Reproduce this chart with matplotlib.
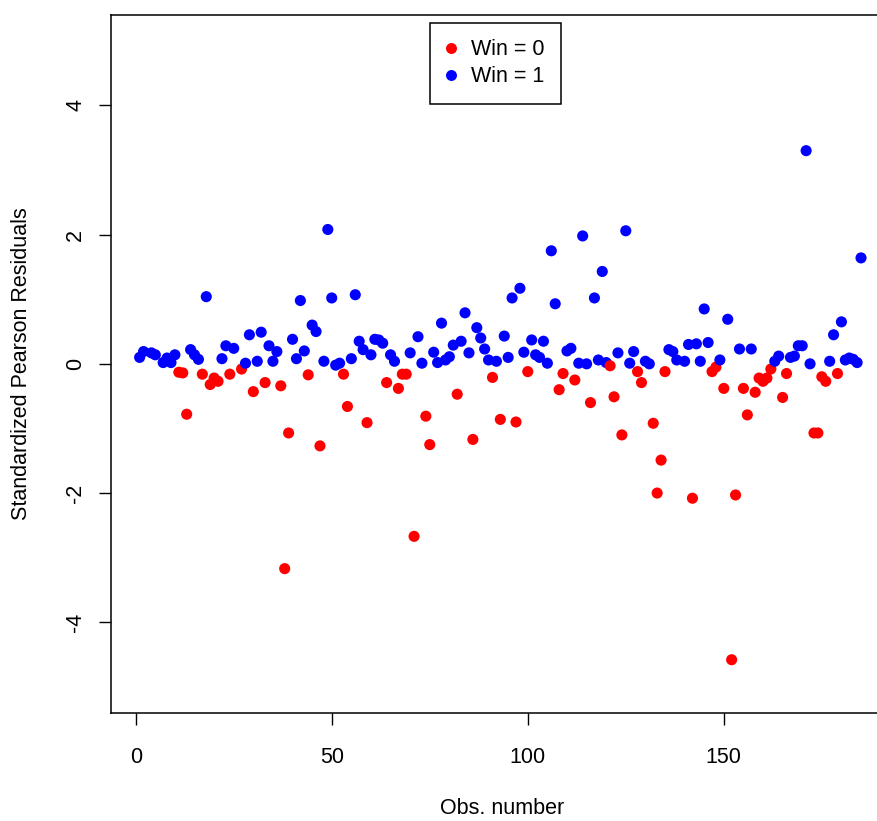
import numpy as np
import matplotlib
matplotlib.use("Agg")
import matplotlib.pyplot as plt
from matplotlib.lines import Line2D

# ----------------------------------------------------
# DATA
# ----------------------------------------------------
obs_win0 = [11, 12, 13, 17, 19, 20, 21, 24, 27, 30, 33, 37, 38, 39, 44, 47,
            53, 54, 59, 64, 67, 68, 69, 71, 74, 75, 82, 86, 91, 93, 97, 100,
            108, 109, 112, 116, 121, 122, 124, 128, 129, 132, 133, 134, 135,
            142, 147, 148, 150, 152, 153, 155, 156, 158, 159, 160, 161, 162,
            165, 166, 173, 174, 175, 176, 179]
resid_win0 = [-0.13, -0.14, -0.78, -0.16, -0.32, -0.22, -0.27, -0.16, -0.08,
              -0.43, -0.29, -0.34, -3.17, -1.07, -0.17, -1.27,
              -0.16, -0.66, -0.91, -0.29, -0.38, -0.16, -0.16, -2.67, -0.81,
              -1.25, -0.47, -1.17, -0.21, -0.86, -0.90, -0.12,
              -0.40, -0.15, -0.25, -0.60, -0.03, -0.51, -1.10, -0.12, -0.29,
              -0.92, -2.00, -1.49, -0.12,
              -2.08, -0.12, -0.05, -0.38, -4.58, -2.03, -0.38, -0.79, -0.44,
              -0.22, -0.27, -0.22, -0.08,
              -0.52, -0.15, -1.07, -1.07, -0.20, -0.27, -0.15]

obs_win1 = [1, 2, 4, 5, 7, 8, 9, 10, 14, 15, 16, 18, 22, 23, 25, 28, 29, 31,
            32, 34, 35, 36, 40, 41, 42, 43, 45, 46, 48, 49, 50, 51, 52, 55,
            56, 57, 58, 60, 61, 62, 63, 65, 66, 70, 72, 73, 76, 77, 78, 79,
            80, 81, 83, 84, 85, 87, 88, 89, 90, 92, 94, 95, 96, 98, 99, 101,
            102, 103, 104, 105, 106, 107, 110, 111, 113, 114, 115, 117, 118,
            119, 120, 123, 125, 126, 127, 130, 131, 136, 137, 138, 140, 141,
            143, 144, 145, 146, 149, 151, 154, 157, 163, 164, 167, 168, 169,
            170, 171, 172, 177, 178, 180, 181, 182, 183, 184, 185]
resid_win1 = [0.10, 0.19, 0.17, 0.14, 0.02, 0.09, 0.02, 0.14, 0.22, 0.14,
              0.07, 1.04, 0.08, 0.28, 0.24, 0.01, 0.45, 0.04,
              0.49, 0.28, 0.04, 0.19, 0.38, 0.08, 0.98, 0.20, 0.60, 0.50,
              0.04, 2.08, 1.02, -0.02, 0.01, 0.08,
              1.07, 0.35, 0.22, 0.14, 0.38, 0.37, 0.32, 0.14, 0.04, 0.17,
              0.42, 0.01, 0.18, 0.02, 0.63, 0.06,
              0.11, 0.29, 0.35, 0.79, 0.17, 0.56, 0.40, 0.23, 0.06, 0.04,
              0.43, 0.10, 1.02, 1.17, 0.18, 0.37,
              0.14, 0.10, 0.35, 0.01, 1.75, 0.93, 0.20, 0.24, 0.01, 1.98,
              0.00, 1.02, 0.06,
              1.43, 0.02, 0.17, 2.06, 0.01, 0.19, 0.04, 0.00, 0.22, 0.19,
              0.06, 0.04, 0.30,
              0.31, 0.04, 0.85, 0.33, 0.06, 0.69, 0.23, 0.23, 0.04, 0.12,
              0.10, 0.12, 0.28,
              0.28, 3.30, 0.00, 0.04, 0.45, 0.65, 0.06, 0.09, 0.07, 0.02, 1.64]

x_ticks = [0, 50, 100, 150]
y_ticks = [-4, -2, 0, 2, 4]
legend_labels = ["Win = 0", "Win = 1"]
group_colors = ["#ff0000", "#0000ff"]


def make_plot():
    plt.rcParams["font.family"] = ["Liberation Sans", "DejaVu Sans"]
    fs = 15.5

    W, H = 878, 821
    fig = plt.figure(figsize=(W / 100, H / 100), dpi=100)
    # axes box in pixels (right side runs off the canvas like the reference)
    left, right, top, bottom = 110.5, 892, 15, 712.7
    ax = fig.add_axes([left / W, 1 - bottom / H, (right - left) / W, (bottom - top) / H])

    # draw in observation order so overlaps stack like the original
    obs = np.array(obs_win0 + obs_win1)
    res = np.array(resid_win0 + resid_win1)
    col = np.array([group_colors[0]] * len(obs_win0) + [group_colors[1]] * len(obs_win1))
    order = np.argsort(obs, kind="stable")
    ax.scatter(obs[order], res[order], c=col[order], s=64, linewidths=0, zorder=3)

    ax.set_xlim(-6.43, 192.9)
    ax.set_ylim(-5.4, 5.4)
    ax.set_xticks(x_ticks)
    ax.set_yticks(y_ticks)
    ax.set_xticklabels([str(t) for t in x_ticks], fontsize=fs)
    ax.set_yticklabels([str(t) for t in y_ticks], fontsize=fs, rotation=90, va="center")
    ax.tick_params(axis="x", direction="out", length=8.6, width=1.0, pad=16)
    ax.tick_params(axis="y", direction="out", length=8.6, width=1.0, pad=9)
    for sp in ax.spines.values():
        sp.set_linewidth(1.1)
        sp.set_color("black")

    fig.text(502 / W, 1 - 808 / H, "Obs. number", fontsize=fs, ha="center", va="center")
    fig.text(22 / W, 1 - 364 / H, "Standardized Pearson Residuals", fontsize=fs,
             ha="center", va="center", rotation=90)

    handles = [Line2D([], [], linestyle="none", marker="o", markersize=7.9,
                      markerfacecolor=c, markeredgewidth=0) for c in group_colors]
    leg = ax.legend(handles, legend_labels, loc="upper left",
                    bbox_to_anchor=(430 / W, 1 - 22.7 / H), bbox_transform=fig.transFigure,
                    borderaxespad=0, fontsize=fs, fancybox=False, framealpha=1,
                    edgecolor="black", handlelength=0.39, handletextpad=0.73,
                    borderpad=0.77, labelspacing=0.28)
    leg.get_frame().set_linewidth(1.1)

    fig.savefig("out.png", dpi=100)
    plt.close(fig)


if __name__ == "__main__":
    make_plot()
